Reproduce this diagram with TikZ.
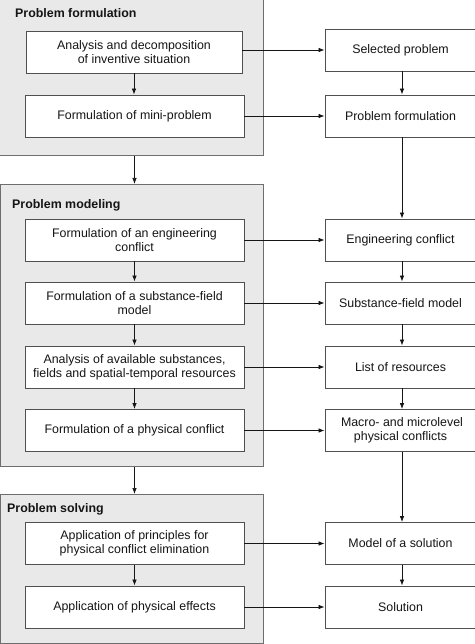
\documentclass[tikz,border=0pt]{standalone}
\usepackage{fontspec}
\setmainfont{Liberation Sans}
\usetikzlibrary{arrows.meta}
\definecolor{grpfill}{HTML}{E9E9E9}
\definecolor{grpline}{HTML}{6E6E6E}
\definecolor{boxline}{HTML}{505050}
\definecolor{txt}{HTML}{151515}
\tikzset{
  grp/.style={draw=grpline, fill=grpfill, line width=0.9pt, rectangle, inner sep=0pt, anchor=north west},
  lbox/.style={draw=boxline, fill=white, line width=0.9pt, rectangle, minimum width=219pt, minimum height=42pt, align=center, text=txt, inner sep=1pt, font=\fontsize{12.4}{13.8}\selectfont},
  rbox/.style={lbox, minimum width=154pt},
  ttl/.style={anchor=west, inner sep=0pt, text=txt, font=\fontsize{12.4}{13.8}\selectfont\bfseries},
  arr/.style={draw=txt, line width=0.7pt, -{Latex[length=6pt,width=4.5pt]}}
}
\begin{document}
\begin{tikzpicture}[x=1pt,y=-1pt]
\useasboundingbox (0,0) rectangle (474,644);
% groups
\node[grp, minimum width=266pt, minimum height=158pt] (g1) at (-3,-3) {};
\node[grp, minimum width=263pt, minimum height=282pt] (g2) at (-0.5,184) {};
\node[grp, minimum width=263pt, minimum height=149pt] (g3) at (-0.5,494) {};
\node[ttl] (t1) at (15,13) {Problem formulation};
\node[ttl] (t2) at (12,205) {Problem modeling};
\node[ttl] (t3) at (7,509) {Problem solving};
% left boxes
\node[lbox, minimum width=216pt] (b1) at (134,52) {Analysis and decomposition\\of inventive situation};
\node[lbox] (b2) at (134.5,116) {Formulation of mini-problem};
\node[lbox] (b3) at (134.5,240) {Formulation of an engineering\\conflict};
\node[lbox] (b4) at (134.5,303) {Formulation of a substance-field\\model};
\node[lbox] (b5) at (134.5,367) {Analysis of available substances,\\fields and spatial-temporal resources};
\node[lbox] (b6) at (134.5,430.5) {Formulation of a physical conflict};
\node[lbox] (b7) at (134.5,543.5) {Application of principles for\\physical conflict elimination};
\node[lbox] (b8) at (134.5,607) {Application of physical effects};
% right boxes
\node[rbox] (r1) at (402,50) {\hspace*{-3pt}Selected problem};
\node[rbox] (r2) at (402,116) {\hspace*{-3pt}Problem formulation};
\node[rbox] (r3) at (402,240) {\hspace*{-3pt}Engineering conflict};
\node[rbox] (r4) at (402,303) {\hspace*{-3pt}Substance-field model};
\node[rbox] (r5) at (402,367) {\hspace*{-3pt}List of resources};
\node[rbox] (r6) at (402,430.5) {Macro- and microlevel\\physical conflicts\hspace*{3pt}};
\node[rbox] (r7) at (402,543.5) {\hspace*{-3pt}Model of a solution};
\node[rbox] (r8) at (402,607) {\hspace*{-3pt}Solution};
% vertical arrows left
\draw[arr] (b1.south) -- (b1.south |- b2.north);
\draw[arr] (b2.south |- g1.south) -- (b2.south |- g2.north);
\draw[arr] (b3.south) -- (b4.north);
\draw[arr] (b4.south) -- (b5.north);
\draw[arr] (b5.south) -- (b6.north);
\draw[arr] (b6.south |- g2.south) -- (b6.south |- g3.north);
\draw[arr] (b7.south) -- (b8.north);
% vertical arrows right
\draw[arr] (r1.south) -- (r2.north);
\draw[arr] (r2.south) -- (r3.north);
\draw[arr] (r3.south) -- (r4.north);
\draw[arr] (r4.south) -- (r5.north);
\draw[arr] (r5.south) -- (r6.north);
\draw[arr] (r6.south) -- (r7.north);
\draw[arr] (r7.south) -- (r8.north);
% horizontal arrows
\draw[arr] (b1.east |- r1.west) -- (r1.west);
\draw[arr] (b2.east) -- (r2.west);
\draw[arr] (b3.east) -- (r3.west);
\draw[arr] (b4.east) -- (r4.west);
\draw[arr] (b5.east) -- (r5.west);
\draw[arr] (b6.east) -- (r6.west);
\draw[arr] (b7.east) -- (r7.west);
\draw[arr] (b8.east) -- (r8.west);
\end{tikzpicture}
\end{document}
